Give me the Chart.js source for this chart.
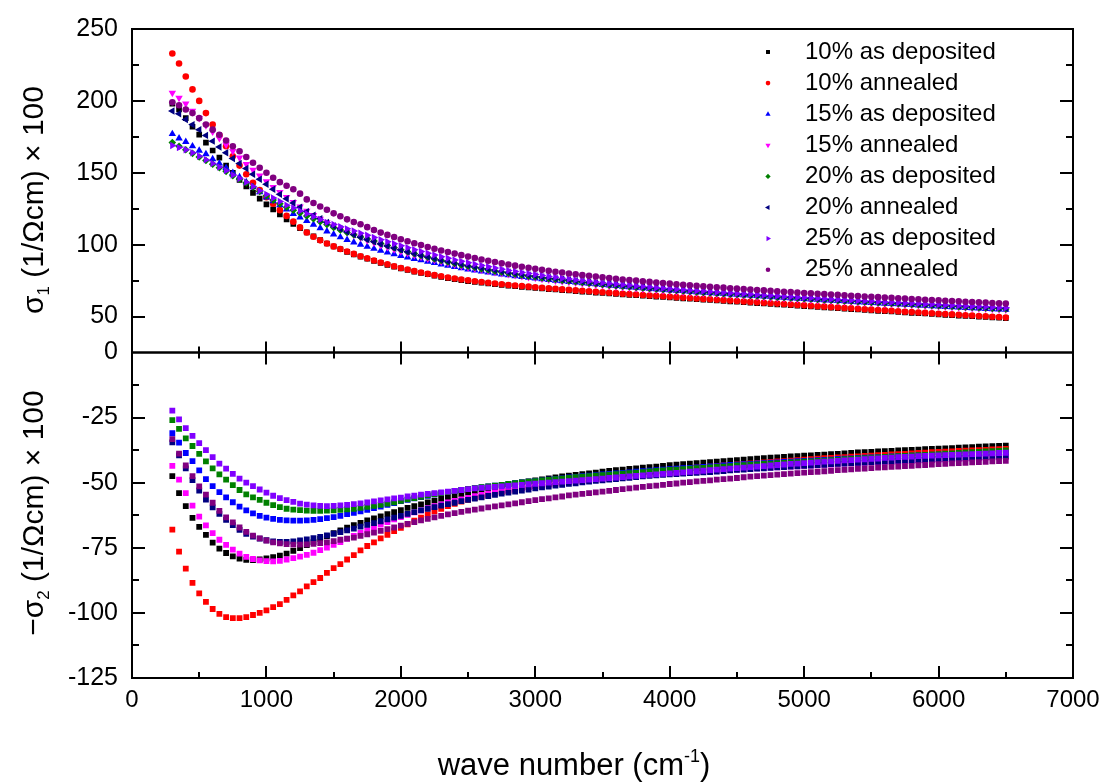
<!DOCTYPE html>
<html>
<head>
<meta charset="utf-8">
<title>Optical conductivity</title>
<script src="https://cdn.jsdelivr.net/npm/chart.js@4.4.0/dist/chart.umd.min.js"></script>
<style>
  html, body { margin: 0; padding: 0; background: #fff; }
  #wrap { width: 1109px; height: 784px; }
</style>
</head>
<body>
<div id="wrap"><canvas id="sigmaChart" width="1109" height="784"></canvas></div>
<script>
// wave numbers (cm-1), shared by all series
const waveNumber = [
  300, 350, 400, 450, 500, 550, 600, 650, 700, 750,
  800, 850, 900, 950, 1000, 1050, 1100, 1150, 1200, 1250,
  1300, 1350, 1400, 1450, 1500, 1550, 1600, 1650, 1700, 1750,
  1800, 1850, 1900, 1950, 2000, 2050, 2100, 2150, 2200, 2250,
  2300, 2350, 2400, 2450, 2500, 2550, 2600, 2650, 2700, 2750,
  2800, 2850, 2900, 2950, 3000, 3050, 3100, 3150, 3200, 3250,
  3300, 3350, 3400, 3450, 3500, 3550, 3600, 3650, 3700, 3750,
  3800, 3850, 3900, 3950, 4000, 4050, 4100, 4150, 4200, 4250,
  4300, 4350, 4400, 4450, 4500, 4550, 4600, 4650, 4700, 4750,
  4800, 4850, 4900, 4950, 5000, 5050, 5100, 5150, 5200, 5250,
  5300, 5350, 5400, 5450, 5500, 5550, 5600, 5650, 5700, 5750,
  5800, 5850, 5900, 5950, 6000, 6050, 6100, 6150, 6200, 6250,
  6300, 6350, 6400, 6450, 6500
];

// sigma_1, (1/Ohm cm) x 100
const s1Dep10 = [
  198, 194, 188, 182, 176.5, 171, 165.5, 160.5, 155, 150,
  145, 140.5, 136, 132, 128, 124.5, 121, 117.5, 114.5, 111.5,
  108.5, 105.8, 103.2, 100.8, 98.7, 96.8, 95, 93.3, 91.7, 90.2,
  88.7, 87.3, 86, 84.7, 83.5, 82.4, 81.3, 80.3, 79.4, 78.5,
  77.5, 76.7, 76, 75.3, 74.7, 74.1, 73.5, 73, 72.5, 72,
  71.5, 71.1, 70.7, 70.3, 69.9, 69.5, 69.1, 68.8, 68.4, 68.1,
  67.7, 67.4, 67.1, 66.7, 66.4, 66.1, 65.8, 65.4, 65.1, 64.8,
  64.5, 64.2, 63.9, 63.6, 63.3, 63, 62.7, 62.4, 62.1, 61.8,
  61.5, 61.2, 60.9, 60.6, 60.3, 60, 59.7, 59.4, 59.1, 58.8,
  58.5, 58.2, 57.9, 57.6, 57.3, 57, 56.7, 56.4, 56.1, 55.8,
  55.5, 55.2, 54.9, 54.6, 54.3, 54, 53.8, 53.5, 53.2, 52.9,
  52.6, 52.3, 52.1, 51.8, 51.5, 51.2, 51, 50.7, 50.4, 50.2,
  49.9, 49.7, 49.4, 49.2, 48.9
];
const s1Ann10 = [
  233, 226, 217, 208, 200, 191.5, 183.5, 176, 168.5, 161.5,
  155, 149, 143, 138, 133, 128.5, 124, 120, 116, 112,
  108.5, 105.5, 103, 100.8, 98.8, 97, 95.3, 93.6, 92, 90.5,
  89, 87.6, 86.3, 85, 83.8, 82.7, 81.6, 80.6, 79.7, 78.8,
  78, 77.2, 76.5, 75.8, 75.2, 74.6, 74, 73.5, 73, 72.5,
  72, 71.6, 71.2, 70.8, 70.4, 70, 69.6, 69.3, 68.9, 68.6,
  68.2, 67.9, 67.6, 67.2, 66.9, 66.6, 66.3, 65.9, 65.6, 65.3,
  65, 64.7, 64.4, 64.1, 63.8, 63.5, 63.2, 62.9, 62.6, 62.3,
  62, 61.7, 61.4, 61.1, 60.8, 60.5, 60.2, 59.9, 59.6, 59.3,
  59, 58.7, 58.4, 58.1, 57.8, 57.5, 57.2, 56.9, 56.6, 56.3,
  56, 55.7, 55.4, 55.1, 54.8, 54.5, 54.3, 54, 53.7, 53.4,
  53.1, 52.8, 52.6, 52.3, 52, 51.7, 51.5, 51.2, 50.9, 50.7,
  50.4, 50.2, 49.9, 49.7, 49.4
];
const s1Dep15 = [
  177, 174, 171.5, 168.5, 165.5, 163, 159.5, 156.5, 153.5, 150,
  147, 143.5, 140, 136.5, 133, 130.3, 127.5, 124.5, 121.5, 119,
  116.5, 114, 111.5, 109.3, 107.2, 105.2, 103.4, 101.7, 100.1, 98.6,
  97.2, 95.9, 94.6, 93.4, 92.3, 91.2, 90.2, 89.2, 88.3, 87.3,
  86.3, 85.4, 84.5, 83.7, 82.9, 82.1, 81.4, 80.7, 80, 79.4,
  78.8, 78.2, 77.6, 77.1, 76.6, 76.1, 75.6, 75.1, 74.6, 74.2,
  73.8, 73.3, 72.9, 72.5, 72.1, 71.7, 71.3, 70.9, 70.5, 70.2,
  69.8, 69.5, 69.1, 68.8, 68.4, 68.1, 67.8, 67.4, 67.1, 66.8,
  66.5, 66.2, 65.9, 65.6, 65.3, 65, 64.7, 64.4, 64.1, 63.8,
  63.5, 63.2, 62.9, 62.6, 62.3, 62, 61.8, 61.5, 61.2, 60.9,
  60.7, 60.4, 60.1, 59.9, 59.6, 59.3, 59.1, 58.8, 58.6, 58.3,
  58.1, 57.8, 57.6, 57.3, 57.1, 56.8, 56.6, 56.4, 56.1, 55.9,
  55.7, 55.4, 55.2, 55, 54.8
];
const s1Ann15 = [
  205.5, 202, 198, 193, 188, 183, 178.5, 174, 169.5, 165,
  160.5, 156, 152, 148, 144, 140, 136.5, 133, 129.5, 126.5,
  123.5, 120.5, 118, 115.5, 113, 110.8, 108.7, 106.7, 104.8, 103,
  101.3, 99.7, 98.2, 96.7, 95.3, 94, 92.7, 91.5, 90.3, 89.2,
  88.1, 87.1, 86.1, 85.1, 84.2, 83.3, 82.5, 81.7, 80.9, 80.1,
  79.4, 78.7, 78, 77.4, 76.8, 76.2, 75.6, 75, 74.5, 74,
  73.5, 73, 72.5, 72, 71.6, 71.2, 70.8, 70.4, 70, 69.6,
  69.2, 68.8, 68.5, 68.1, 67.8, 67.4, 67.1, 66.8, 66.5, 66.2,
  65.9, 65.6, 65.3, 65, 64.7, 64.4, 64.1, 63.8, 63.5, 63.2,
  62.9, 62.7, 62.4, 62.1, 61.9, 61.6, 61.3, 61.1, 60.8, 60.6,
  60.3, 60.1, 59.8, 59.6, 59.3, 59.1, 58.8, 58.6, 58.4, 58.1,
  57.9, 57.7, 57.4, 57.2, 57, 56.8, 56.5, 56.3, 56.1, 55.9,
  55.7, 55.5, 55.3, 55, 54.8
];
const s1Dep20 = [
  171, 168.5, 166, 163.5, 161, 158.5, 156, 153.5, 151, 148,
  145.5, 143, 140, 137, 134, 131, 128.5, 126, 124, 122,
  120, 118, 116, 114, 112, 110.2, 108.5, 106.9, 105.4, 104,
  102.5, 100.9, 99.4, 97.9, 96.5, 95.1, 93.8, 92.5, 91.3, 90.1,
  89, 87.9, 86.9, 85.9, 85, 84.1, 83.2, 82.4, 81.6, 80.8,
  80.1, 79.4, 78.7, 78.1, 77.5, 76.9, 76.3, 75.8, 75.2, 74.7,
  74.2, 73.7, 73.2, 72.8, 72.3, 71.9, 71.5, 71.1, 70.7, 70.3,
  69.9, 69.5, 69.2, 68.8, 68.5, 68.1, 67.8, 67.5, 67.1, 66.8,
  66.5, 66.2, 65.9, 65.6, 65.3, 65, 64.7, 64.4, 64.1, 63.8,
  63.5, 63.3, 63, 62.7, 62.4, 62.2, 61.9, 61.6, 61.4, 61.1,
  60.9, 60.6, 60.4, 60.1, 59.9, 59.6, 59.4, 59.1, 58.9, 58.7,
  58.4, 58.2, 58, 57.7, 57.5, 57.3, 57.1, 56.8, 56.6, 56.4,
  56.2, 56, 55.7, 55.5, 55.3
];
const s1Ann20 = [
  193, 191, 187, 183.5, 180, 176, 172, 168, 164, 160,
  156.5, 153, 149, 145.5, 142, 138.5, 135, 132, 129, 126,
  123, 120.5, 118, 115.5, 113, 111, 109, 107, 105.2, 103.5,
  102, 100.5, 99.1, 97.7, 96.4, 95.1, 93.9, 92.7, 91.6, 90.5,
  89.4, 88.4, 87.4, 86.5, 85.6, 84.7, 83.9, 83.1, 82.3, 81.5,
  80.8, 80.1, 79.4, 78.8, 78.2, 77.6, 77, 76.4, 75.9, 75.4,
  74.9, 74.4, 73.9, 73.4, 73, 72.5, 72.1, 71.7, 71.3, 70.9,
  70.5, 70.1, 69.7, 69.4, 69, 68.7, 68.3, 68, 67.7, 67.3,
  67, 66.7, 66.4, 66.1, 65.8, 65.5, 65.2, 64.9, 64.6, 64.3,
  64, 63.8, 63.5, 63.2, 62.9, 62.7, 62.4, 62.1, 61.9, 61.6,
  61.4, 61.1, 60.9, 60.6, 60.4, 60.1, 59.9, 59.6, 59.4, 59.2,
  58.9, 58.7, 58.5, 58.2, 58, 57.8, 57.6, 57.3, 57.1, 56.9,
  56.7, 56.5, 56.3, 56, 55.8
];
const s1Dep25 = [
  169, 167.5, 166, 164, 161.5, 159, 156.5, 154, 151.5, 148.5,
  146, 143.5, 140.5, 137.5, 135, 132.5, 130, 127.5, 125.5, 123.5,
  121.5, 119.5, 117.5, 115.5, 114, 112.5, 111, 109.5, 108, 106.5,
  105, 103.5, 102, 100.6, 99.2, 97.8, 96.5, 95.2, 94, 92.8,
  91.6, 90.5, 89.4, 88.4, 87.4, 86.4, 85.5, 84.6, 83.7, 82.9,
  82.1, 81.3, 80.6, 79.9, 79.2, 78.5, 77.9, 77.3, 76.7, 76.1,
  75.5, 75, 74.5, 74, 73.5, 73, 72.6, 72.1, 71.7, 71.3,
  70.9, 70.5, 70.1, 69.7, 69.4, 69, 68.7, 68.3, 68, 67.7,
  67.3, 67, 66.7, 66.4, 66.1, 65.8, 65.5, 65.2, 64.9, 64.6,
  64.3, 64, 63.8, 63.5, 63.2, 62.9, 62.7, 62.4, 62.1, 61.9,
  61.6, 61.4, 61.1, 60.9, 60.6, 60.4, 60.1, 59.9, 59.7, 59.4,
  59.2, 59, 58.7, 58.5, 58.3, 58.1, 57.8, 57.6, 57.4, 57.2,
  57, 56.8, 56.5, 56.3, 56.1
];
const s1Ann25 = [
  199, 197, 194, 191.5, 188, 183.5, 180, 176.5, 172.5, 168.5,
  165, 161, 157, 153.5, 150, 146.5, 143.5, 141, 138.5, 135.5,
  131.5, 129, 126.6, 124.3, 121.8, 119.8, 117.6, 115.8, 114.2, 112.2,
  110.2, 108.4, 106.8, 105.3, 103.8, 102.4, 101, 99.7, 98.4, 97.2,
  96, 94.9, 93.8, 92.7, 91.7, 90.7, 89.7, 88.8, 87.9, 87,
  86.2, 85.4, 84.6, 83.9, 83.2, 82.5, 81.8, 81.2, 80.6, 80,
  79.4, 78.8, 78.3, 77.8, 77.3, 76.8, 76.3, 75.8, 75.4, 75,
  74.5, 74.1, 73.7, 73.3, 72.9, 72.5, 72.1, 71.8, 71.4, 71.1,
  70.7, 70.4, 70.1, 69.7, 69.4, 69.1, 68.8, 68.5, 68.2, 67.9,
  67.6, 67.3, 67, 66.7, 66.4, 66.2, 65.9, 65.6, 65.3, 65.1,
  64.8, 64.5, 64.3, 64, 63.8, 63.5, 63.2, 63, 62.7, 62.5,
  62.2, 62, 61.7, 61.5, 61.3, 61, 60.8, 60.6, 60.3, 60.1,
  59.9, 59.7, 59.4, 59.2, 59
];

// -sigma_2, (1/Ohm cm) x 100
const s2Dep10 = [
  -47.5, -54, -59, -63.5, -67, -70, -73, -75.3, -77, -78.3,
  -79.1, -79.6, -79.7, -79.5, -79.1, -78.6, -78, -77.2, -76.2, -75.1,
  -74, -72.8, -71.6, -70.5, -69.4, -68.3, -67.3, -66.3, -65.4, -64.5,
  -63.7, -62.9, -62.1, -61.3, -60.5, -59.7, -59, -58.3, -57.6, -56.9,
  -56.2, -55.6, -55, -54.4, -53.8, -53.2, -52.7, -52.2, -51.7, -51.2,
  -50.7, -50.3, -49.9, -49.5, -49.1, -48.7, -48.3, -48, -47.6, -47.3,
  -47, -46.7, -46.4, -46.1, -45.8, -45.5, -45.2, -45, -44.7, -44.5,
  -44.2, -44, -43.8, -43.5, -43.3, -43.1, -42.9, -42.7, -42.5, -42.3,
  -42.1, -41.9, -41.7, -41.5, -41.3, -41.1, -41, -40.8, -40.6, -40.4,
  -40.3, -40.1, -39.9, -39.8, -39.6, -39.5, -39.3, -39.2, -39, -38.9,
  -38.7, -38.6, -38.4, -38.3, -38.2, -38, -37.9, -37.8, -37.6, -37.5,
  -37.4, -37.3, -37.1, -37, -36.9, -36.8, -36.7, -36.5, -36.4, -36.3,
  -36.2, -36.1, -36, -35.9, -35.8
];
const s2Ann10 = [
  -68, -76.5, -83, -88.5, -92.5, -95.8, -98.5, -100.4, -101.6, -102,
  -102, -101.6, -100.8, -100, -99, -97.8, -96.6, -95, -93.3, -91.7,
  -89.8, -88.2, -86.6, -84.6, -82.8, -81.3, -79.5, -77.8, -76, -74.3,
  -72.9, -71.4, -70, -68.6, -67.3, -66, -64.6, -63.4, -62.2, -61,
  -60, -59, -58.1, -57.3, -56.6, -55.9, -55.3, -54.7, -54.1, -53.6,
  -53.1, -52.6, -52.2, -51.7, -51.3, -50.9, -50.5, -50.1, -49.8, -49.4,
  -49.1, -48.7, -48.4, -48.1, -47.8, -47.5, -47.2, -46.9, -46.7, -46.4,
  -46.1, -45.9, -45.6, -45.4, -45.1, -44.9, -44.7, -44.4, -44.2, -44,
  -43.8, -43.6, -43.4, -43.2, -43, -42.8, -42.6, -42.4, -42.2, -42,
  -41.8, -41.7, -41.5, -41.3, -41.1, -41, -40.8, -40.6, -40.5, -40.3,
  -40.2, -40, -39.9, -39.7, -39.6, -39.4, -39.3, -39.1, -39, -38.9,
  -38.7, -38.6, -38.5, -38.3, -38.2, -38.1, -38, -37.8, -37.7, -37.6,
  -37.5, -37.4, -37.2, -37.1, -37
];
const s2Dep15 = [
  -31, -34.6, -38.6, -41.7, -45.3, -48.6, -51.3, -53.6, -55.6, -57.5,
  -59.2, -60.6, -61.8, -62.7, -63.4, -63.9, -64.3, -64.5, -64.6, -64.6,
  -64.5, -64.3, -64, -63.6, -63.2, -62.7, -62.1, -61.6, -61, -60.4,
  -59.8, -59.2, -58.5, -57.8, -57.1, -56.6, -56, -55.5, -55, -54.5,
  -54, -53.6, -53.2, -52.8, -52.5, -52.1, -51.8, -51.4, -51.1, -50.8,
  -50.5, -50.2, -49.9, -49.6, -49.3, -49.1, -48.8, -48.5, -48.3, -48,
  -47.8, -47.5, -47.3, -47.1, -46.8, -46.6, -46.4, -46.2, -46, -45.8,
  -45.6, -45.4, -45.2, -45, -44.8, -44.6, -44.4, -44.3, -44.1, -43.9,
  -43.7, -43.6, -43.4, -43.2, -43.1, -42.9, -42.8, -42.6, -42.5, -42.3,
  -42.2, -42, -41.9, -41.7, -41.6, -41.5, -41.3, -41.2, -41.1, -40.9,
  -40.8, -40.7, -40.5, -40.4, -40.3, -40.2, -40.1, -39.9, -39.8, -39.7,
  -39.6, -39.5, -39.4, -39.3, -39.2, -39.1, -39, -38.9, -38.8, -38.7,
  -38.6, -38.5, -38.4, -38.3, -38.2
];
const s2Ann15 = [
  -43.5, -48.8, -54, -58.8, -63, -66.4, -69.4, -71.9, -73.9, -75.7,
  -77.2, -78.5, -79.3, -79.8, -80.1, -80.2, -80, -79.5, -79, -78.4,
  -77.7, -76.9, -75.9, -74.9, -73.9, -72.8, -71.6, -70.4, -69.3, -68.2,
  -67.1, -66.1, -65.1, -64.1, -63.2, -62.3, -61.4, -60.6, -59.8, -59,
  -58.3, -57.6, -57, -56.4, -55.8, -55.2, -54.7, -54.2, -53.7, -53.2,
  -52.9, -52.5, -52.1, -51.8, -51.4, -51.1, -50.8, -50.5, -50.2, -49.9,
  -49.6, -49.4, -49.1, -48.9, -48.7, -48.5, -48.2, -48, -47.8, -47.5,
  -47.3, -47.1, -46.9, -46.7, -46.5, -46.4, -46.2, -46.1, -45.9, -45.8,
  -45.6, -45.4, -45.3, -45.1, -45, -44.8, -44.7, -44.5, -44.4, -44.2,
  -44.1, -43.9, -43.8, -43.7, -43.5, -43.4, -43.3, -43.1, -43, -42.9,
  -42.7, -42.6, -42.5, -42.4, -42.2, -42.1, -42, -41.9, -41.8, -41.7,
  -41.6, -41.5, -41.4, -41.3, -41.2, -41.1, -41, -40.9, -40.8, -40.7,
  -40.6, -40.5, -40.4, -40.3, -40.2
];
const s2Dep20 = [
  -26, -29.3, -33, -35.9, -38.9, -41.8, -44.5, -46.8, -48.8, -50.9,
  -52.8, -54.5, -55.6, -56.6, -57.7, -58.6, -59.4, -60, -60.3, -60.5,
  -60.7, -60.8, -60.8, -60.7, -60.6, -60.4, -60.2, -60, -59.7, -59.3,
  -58.9, -58.5, -58, -57.5, -57, -56.4, -55.9, -55.4, -54.9, -54.4,
  -54, -53.6, -53.2, -52.8, -52.4, -52.1, -51.7, -51.4, -51.1, -50.8,
  -50.5, -50.2, -49.9, -49.6, -49.4, -49.1, -48.9, -48.6, -48.4, -48.2,
  -47.9, -47.7, -47.5, -47.3, -47.1, -46.9, -46.7, -46.5, -46.3, -46.1,
  -45.9, -45.7, -45.5, -45.3, -45.1, -45, -44.8, -44.6, -44.4, -44.3,
  -44.1, -43.9, -43.8, -43.6, -43.4, -43.3, -43.1, -43, -42.8, -42.7,
  -42.5, -42.4, -42.2, -42.1, -41.9, -41.8, -41.6, -41.5, -41.3, -41.2,
  -41, -40.9, -40.7, -40.6, -40.4, -40.3, -40.1, -40, -39.8, -39.7,
  -39.5, -39.4, -39.3, -39.1, -39, -38.8, -38.7, -38.6, -38.4, -38.3,
  -38.2, -38, -37.9, -37.8, -37.6
];
const s2Ann20 = [
  -34.5, -39.5, -44.5, -49, -53, -56.5, -59.5, -62, -64.3, -66.3,
  -68.1, -69.6, -70.7, -71.5, -72.1, -72.5, -72.7, -72.7, -72.5, -72.2,
  -71.8, -71.3, -70.8, -70.2, -69.6, -69, -68.3, -67.6, -66.9, -66.2,
  -65.5, -64.8, -64.1, -63.4, -62.7, -62, -61.3, -60.6, -60, -59.4,
  -58.8, -58.2, -57.7, -57.1, -56.6, -56.1, -55.6, -55.1, -54.7, -54.2,
  -53.8, -53.4, -53, -52.6, -52.2, -51.8, -51.5, -51.1, -50.8, -50.4,
  -50.2, -49.9, -49.6, -49.3, -49.1, -48.8, -48.6, -48.3, -48.1, -47.8,
  -47.6, -47.4, -47.2, -47, -46.8, -46.7, -46.5, -46.3, -46.2, -46,
  -45.9, -45.7, -45.5, -45.3, -45.1, -45, -44.8, -44.6, -44.5, -44.3,
  -44.1, -44, -43.8, -43.7, -43.5, -43.4, -43.2, -43.1, -42.9, -42.8,
  -42.7, -42.5, -42.4, -42.3, -42.1, -42, -41.9, -41.8, -41.6, -41.5,
  -41.4, -41.3, -41.2, -41.1, -40.9, -40.8, -40.7, -40.6, -40.5, -40.4,
  -40.3, -40.2, -40.1, -40, -39.9
];
const s2Dep25 = [
  -22.3, -25.7, -29, -32, -34.8, -37.5, -40.2, -42.7, -44.6, -46.6,
  -48.4, -50, -51.3, -52.6, -53.8, -55, -55.9, -56.7, -57.4, -58,
  -58.4, -58.7, -58.9, -59, -58.9, -58.7, -58.5, -58.2, -57.9, -57.6,
  -57.2, -56.8, -56.4, -56, -55.7, -55.3, -55, -54.6, -54.3, -54,
  -53.7, -53.4, -53.1, -52.8, -52.5, -52.2, -52, -51.8, -51.6, -51.4,
  -51.2, -51, -50.8, -50.6, -50.4, -50.2, -50, -49.8, -49.6, -49.4,
  -49.2, -49, -48.8, -48.6, -48.4, -48.2, -48, -47.8, -47.6, -47.4,
  -47.2, -47, -46.8, -46.6, -46.4, -46.2, -46, -45.8, -45.6, -45.4,
  -45.2, -45, -44.8, -44.6, -44.4, -44.2, -44, -43.8, -43.6, -43.4,
  -43.2, -43, -42.8, -42.7, -42.5, -42.3, -42.1, -41.9, -41.8, -41.6,
  -41.4, -41.3, -41.1, -41, -40.8, -40.7, -40.5, -40.4, -40.2, -40.1,
  -40, -39.8, -39.7, -39.6, -39.5, -39.4, -39.3, -39.2, -39.1, -39,
  -38.9, -38.8, -38.7, -38.6, -38.5
];
const s2Ann25 = [
  -33.3, -38.8, -43.4, -47.5, -51.4, -54.6, -57.7, -60.8, -63.3, -65.2,
  -67.2, -68.9, -70.3, -71.4, -72.2, -72.9, -73.3, -73.6, -73.8, -73.8,
  -73.7, -73.5, -73.2, -72.9, -72.4, -71.9, -71.5, -71.1, -70.4, -69.8,
  -69.2, -68.5, -67.8, -67.2, -66.5, -65.8, -65.1, -64.5, -63.9, -63.3,
  -62.7, -62.2, -61.7, -61.2, -60.7, -60.3, -59.9, -59.5, -59.1, -58.7,
  -58.3, -57.9, -57.5, -57.1, -56.7, -56.3, -56, -55.6, -55.3, -54.9,
  -54.6, -54.3, -54, -53.7, -53.4, -53.1, -52.8, -52.5, -52.2, -51.9,
  -51.6, -51.3, -51.1, -50.8, -50.5, -50.3, -50, -49.8, -49.5, -49.3,
  -49.1, -48.8, -48.6, -48.4, -48.2, -47.9, -47.7, -47.5, -47.3, -47.1,
  -46.9, -46.7, -46.5, -46.3, -46.1, -45.9, -45.8, -45.6, -45.4, -45.2,
  -45.1, -44.9, -44.7, -44.6, -44.4, -44.2, -44.1, -43.9, -43.8, -43.6,
  -43.5, -43.3, -43.2, -43, -42.9, -42.8, -42.6, -42.5, -42.4, -42.2,
  -42.1, -42, -41.8, -41.7, -41.6
];

const seriesLabels = [
  '10% as deposited', '10% annealed', '15% as deposited', '15% annealed',
  '20% as deposited', '20% annealed', '25% as deposited', '25% annealed'
];
const seriesColors = ['#000000', '#ff0000', '#0000ff', '#ff00ff', '#008000', '#000080', '#8000ff', '#800080'];
const markerStyle = ['rect', 'circle', 'triangle', 'triangle', 'rectRot', 'triangle', 'triangle', 'circle'];
const markerRotation = [0, 0, 0, 180, 0, -90, 90, 0];
const markerRadius = [4, 3.3, 4.3, 4.3, 3.8, 4.3, 4.3, 3.3];

const sigma1 = [s1Dep10, s1Ann10, s1Dep15, s1Ann15, s1Dep20, s1Ann20, s1Dep25, s1Ann25];
const sigma2 = [s2Dep10, s2Ann10, s2Dep15, s2Ann15, s2Dep20, s2Ann20, s2Dep25, s2Ann25];

const FONT = "'Liberation Sans', Arial, Helvetica, sans-serif";
Chart.defaults.font.family = FONT;
Chart.defaults.color = '#000';

function toPoints(ys) {
  return waveNumber.map((x, i) => ({ x: x, y: ys[i] }));
}

const datasets = [];
sigma1.forEach((ys, i) => {
  datasets.push({
    label: seriesLabels[i],
    data: toPoints(ys),
    yAxisID: 'yTop',
    pointStyle: markerStyle[i],
    pointRotation: markerRotation[i],
    pointRadius: markerRadius[i],
    backgroundColor: seriesColors[i],
    borderColor: seriesColors[i],
    pointBorderWidth: 0,
    order: 7 - i
  });
});
sigma2.forEach((ys, i) => {
  datasets.push({
    label: seriesLabels[i],
    data: toPoints(ys),
    yAxisID: 'yBot',
    pointStyle: 'rect',
    pointRadius: 4.1,
    backgroundColor: seriesColors[i],
    borderColor: seriesColors[i],
    pointBorderWidth: 0,
    order: 7 - i
  });
});

// box around each panel, inward ticks on all sides
const panelFrame = {
  id: 'panelFrame',
  afterDatasetsDraw(chart) {
    const ctx = chart.ctx;
    const x = chart.scales.x, yTop = chart.scales.yTop, yBot = chart.scales.yBot;
    const L = x.left, R = x.right;
    ctx.save();
    ctx.strokeStyle = '#000';
    ctx.lineWidth = 2;
    ctx.beginPath();
    const yTicks = (scale, from, to, step, major) => {
      for (let v = from + step; v < to - 1e-6; v += step) {
        const py = Math.round(scale.getPixelForValue(v));
        const len = Math.abs(v % major) < 1e-6 ? 13 : 7;
        ctx.moveTo(L, py); ctx.lineTo(L + len, py);
        ctx.moveTo(R, py); ctx.lineTo(R - len, py);
      }
    };
    yTicks(yTop, 25, 250, 25, 50);
    yTicks(yBot, -125, 0, 12.5, 25);
    const mid = yTop.bottom, base = yBot.bottom;
    for (let v = 500; v < 7000; v += 500) {
      const px = Math.round(x.getPixelForValue(v));
      const major = v % 1000 === 0;
      ctx.moveTo(px, base); ctx.lineTo(px, base - (major ? 12 : 6));
      ctx.moveTo(px, mid - (major ? 11 : 6)); ctx.lineTo(px, mid + (major ? 12 : 6));
    }
    ctx.stroke();
    ctx.strokeRect(L, yTop.top, R - L, yTop.bottom - yTop.top);
    ctx.strokeRect(L, yBot.top, R - L, yBot.bottom - yBot.top);
    ctx.restore();
  }
};

// legend inside the upper panel, one entry per sample
const panelLegend = {
  id: 'panelLegend',
  afterDraw(chart) {
    const ctx = chart.ctx;
    const entries = chart.data.datasets.filter(d => d.yAxisID === 'yTop');
    ctx.save();
    ctx.font = '24px ' + FONT;
    ctx.textBaseline = 'middle';
    ctx.textAlign = 'left';
    entries.forEach((d, i) => {
      const y = 52 + i * 31.1;
      ctx.fillStyle = d.backgroundColor;
      Chart.helpers.drawPoint(ctx, {
        pointStyle: d.pointStyle,
        rotation: d.pointRotation || 0,
        radius: d.pointRadius * 0.7,
        borderWidth: 0
      }, 768, y);
      ctx.fillStyle = '#000';
      ctx.fillText(d.label, 805, y);
    });
    ctx.restore();
  }
};

// axis titles with sub/superscripts
function richText(ctx, parts, cx, cy, angle) {
  ctx.save();
  ctx.translate(cx, cy);
  ctx.rotate(angle);
  ctx.textBaseline = 'alphabetic';
  ctx.textAlign = 'left';
  let total = 0;
  parts.forEach(p => { ctx.font = p.size + 'px ' + FONT; total += ctx.measureText(p.t).width; });
  let pos = -total / 2;
  parts.forEach(p => {
    ctx.font = p.size + 'px ' + FONT;
    ctx.fillText(p.t, pos, p.dy || 0);
    pos += ctx.measureText(p.t).width;
  });
  ctx.restore();
}

const axisTitles = {
  id: 'axisTitles',
  afterDraw(chart) {
    const ctx = chart.ctx;
    ctx.save();
    ctx.fillStyle = '#000';
    richText(ctx, [
      { t: '\u03c3', size: 30 },
      { t: '1', size: 17, dy: 6 },
      { t: ' (1/\u03a9cm) \u00d7 100', size: 30 }
    ], 43, 200, -Math.PI / 2);
    richText(ctx, [
      { t: '\u2212\u03c3', size: 30 },
      { t: '2', size: 17, dy: 6 },
      { t: ' (1/\u03a9cm) \u00d7 100', size: 30 }
    ], 43, 513, -Math.PI / 2);
    richText(ctx, [
      { t: 'wave number (cm', size: 31 },
      { t: '-1', size: 18, dy: -13 },
      { t: ')', size: 31 }
    ], 574, 775, 0);
    ctx.restore();
  }
};

new Chart(document.getElementById('sigmaChart'), {
  type: 'scatter',
  data: { datasets: datasets },
  options: {
    responsive: false,
    animation: false,
    devicePixelRatio: 1,
    events: [],
    layout: { padding: { top: 22, right: 36, left: 0, bottom: 0 } },
    plugins: { legend: { display: false }, tooltip: { enabled: false } },
    scales: {
      x: {
        type: 'linear',
        min: 0,
        max: 7000,
        grid: { display: false, drawTicks: false },
        border: { display: false },
        ticks: {
          stepSize: 1000,
          padding: 8,
          font: { size: 24 },
          autoSkip: false,
          maxRotation: 0,
          callback: v => String(v)
        },
        afterFit(scale) { scale.height = 106; }
      },
      // the stack is laid out bottom-up, so the lower panel comes first
      yBot: {
        type: 'linear',
        position: 'left',
        stack: 'panels',
        stackWeight: 329,
        min: -125,
        max: 0,
        grid: { display: false, drawTicks: false },
        border: { display: false },
        ticks: {
          stepSize: 12.5,
          padding: 14,
          autoSkip: false,
          font: { size: 25 },
          callback: v => (v % 25 === 0 ? String(v) : '')
        },
        afterFit(scale) { scale.width = 132; }
      },
      yTop: {
        type: 'linear',
        position: 'left',
        stack: 'panels',
        stackWeight: 327,
        min: 25,
        max: 250,
        grid: { display: false, drawTicks: false },
        border: { display: false },
        ticks: {
          stepSize: 25,
          padding: 14,
          autoSkip: false,
          font: { size: 25 },
          callback: v => (v % 50 === 0 ? String(v) : '')
        },
        afterFit(scale) { scale.width = 132; }
      }
    }
  },
  plugins: [panelFrame, panelLegend, axisTitles]
});
</script>
</body>
</html>
